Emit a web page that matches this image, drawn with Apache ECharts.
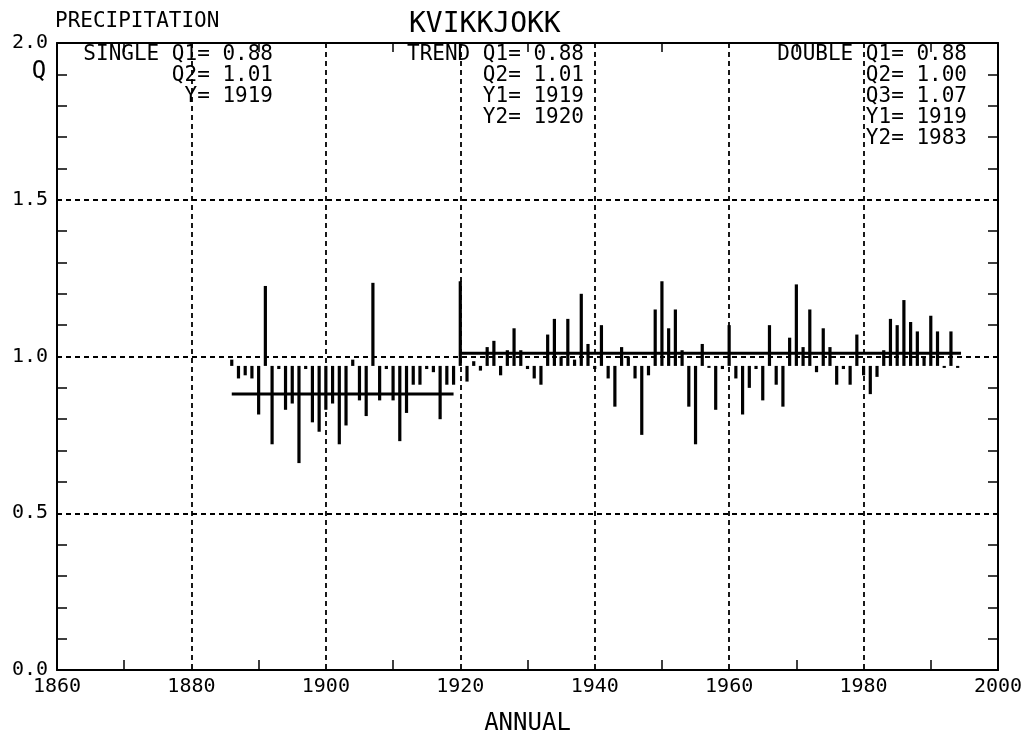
<!DOCTYPE html>
<html>
<head>
<meta charset="utf-8">
<title>KVIKKJOKK</title>
<script src="https://cdn.jsdelivr.net/npm/echarts/dist/echarts.min.js"></script>
<style>
  html, body { margin: 0; padding: 0; background: #fff; }
  #chart { width: 1030px; height: 741px; }
</style>
</head>
<body>
<div id="chart"></div>
<script>
// 数据
var firstYear = 1886;
var qValues = [
  0.99, 0.93, 0.94, 0.93, 0.815, 1.225, 0.72, 0.96, 0.83, 0.85,   // 1886-1895
  0.66, 0.96, 0.79, 0.76, 0.83, 0.85, 0.72, 0.78, 0.99, 0.86,     // 1896-1905
  0.81, 1.235, 0.86, 0.96, 0.86, 0.73, 0.82, 0.91, 0.91, 0.96,    // 1906-1915
  0.95, 0.80, 0.91, 0.91,                                         // 1916-1919
  1.24, 0.92, 0.985, 0.955, 1.03, 1.05, 0.94, 1.02, 1.09, 1.02,   // 1920-1929
  0.96, 0.93, 0.91, 1.07, 1.12, 1.00, 1.12, 0.99, 1.20, 1.04,     // 1930-1939
  0.96, 1.10, 0.93, 0.84, 1.03, 1.00, 0.93, 0.75, 0.94, 1.15,     // 1940-1949
  1.24, 1.09, 1.15, 1.02, 0.84, 0.72, 1.04, 0.965, 0.83, 0.96,    // 1950-1959
  1.10, 0.93, 0.815, 0.90, 0.96, 0.86, 1.10, 0.91, 0.84, 1.06,    // 1960-1969
  1.23, 1.03, 1.15, 0.95, 1.09, 1.03, 0.91, 0.96, 0.91, 1.07,     // 1970-1979
  0.94, 0.88, 0.935, 1.02, 1.12, 1.10, 1.18, 1.11, 1.08, 1.00,    // 1980-1989
  1.13, 1.08, 0.965, 1.08, 0.965                                  // 1990-1994
];
var barBase = 0.97;

// 均值线段
var segStart = [1886, 1920];
var segEnd = [1919, 1994.5];
var segQ = [0.88, 1.01];

// 文字
var xTicks = [1860, 1880, 1900, 1920, 1940, 1960, 1980, 2000];
var yTicks = ['0.0', '0.5', '1.0', '1.5', '2.0'];
var singleLines = ['SINGLE Q1= 0.88', 'Q2= 1.01', 'Y= 1919'];
var trendLines = ['TREND Q1= 0.88', 'Q2= 1.01', 'Y1= 1919', 'Y2= 1920'];
var doubleLines = ['DOUBLE Q1= 0.88', 'Q2= 1.00', 'Q3= 1.07', 'Y1= 1919', 'Y2= 1983'];

var FONT = '"DejaVu Sans Mono", "Liberation Mono", monospace';

var barData = qValues.map(function (v, i) { return [firstYear + i, v]; });

var lineSeries = segQ.map(function (q, i) {
  return {
    type: 'line',
    data: [[segStart[i], q], [segEnd[i], q]],
    symbol: 'none',
    silent: true,
    z: 5,
    lineStyle: { color: '#000', width: 3 }
  };
});

function textBlock(lines, right) {
  return lines.map(function (t, i) {
    return {
      type: 'text',
      x: right,
      y: 55 + i * 21,
      style: {
        text: t,
        fill: '#000',
        font: '21px ' + FONT,
        align: 'right',
        textAlign: 'right',
        verticalAlign: 'middle',
        textVerticalAlign: 'middle'
      },
      z: 10
    };
  });
}

var myChart = echarts.init(document.getElementById('chart'));

var frameLine = { show: true, onZero: false, lineStyle: { color: '#000', width: 2 } };
var dashed = { show: true, lineStyle: { color: '#000', width: 1.8, type: [5, 4] } };

var option = {
  backgroundColor: '#fff',
  animation: false,
  title: {
    text: 'KVIKKJOKK',
    left: 404,
    top: 6,
    textStyle: { fontFamily: FONT, fontSize: 28, fontWeight: 'normal', color: '#000' }
  },
  grid: { left: 57, right: 32, top: 43, bottom: 63, containLabel: false },
  xAxis: [
    {
      type: 'value',
      min: xTicks[0],
      max: xTicks[xTicks.length - 1],
      interval: 20,
      position: 'bottom',
      axisLine: frameLine,
      axisTick: { show: false, inside: true },
      minorTick: { show: true, splitNumber: 2, length: 10, lineStyle: { color: '#000', width: 1.5 } },
      axisLabel: {
        color: '#000', fontFamily: FONT, fontSize: 20, margin: 7,
        formatter: function (v) { return String(v); }
      },
      splitLine: dashed,
      name: 'ANNUAL',
      nameLocation: 'middle',
      nameGap: 42,
      nameTextStyle: { color: '#000', fontFamily: FONT, fontSize: 24 }
    },
    {
      type: 'value',
      min: xTicks[0],
      max: xTicks[xTicks.length - 1],
      interval: 20,
      position: 'top',
      axisLine: frameLine,
      axisTick: { show: false, inside: true },
      minorTick: { show: true, splitNumber: 2, length: 9, lineStyle: { color: '#000', width: 1.5 } },
      axisLabel: { show: false },
      splitLine: { show: false }
    }
  ],
  yAxis: [
    {
      type: 'value',
      min: 0,
      max: 2,
      interval: 0.5,
      position: 'left',
      axisLine: frameLine,
      axisTick: { show: false, inside: true },
      minorTick: { show: true, splitNumber: 5, length: 10, lineStyle: { color: '#000', width: 1.5 } },
      axisLabel: {
        color: '#000', fontFamily: FONT, fontSize: 20, margin: 9,
        formatter: function (v) { return yTicks[Math.round(v * 2)]; }
      },
      splitLine: dashed
    },
    {
      type: 'value',
      min: 0,
      max: 2,
      interval: 0.5,
      position: 'right',
      axisLine: frameLine,
      axisTick: { show: false, inside: true },
      minorTick: { show: true, splitNumber: 5, length: 10, lineStyle: { color: '#000', width: 1.5 } },
      axisLabel: { show: false },
      splitLine: { show: false }
    }
  ],
  graphic: [
    {
      type: 'text', x: 55, y: 22,
      style: { text: 'PRECIPITATION', fill: '#000', font: '21px ' + FONT, align: 'left', textAlign: 'left', verticalAlign: 'middle', textVerticalAlign: 'middle' }
    },
    {
      type: 'text', x: 39, y: 72,
      style: { text: 'Q', fill: '#000', font: '24px ' + FONT, align: 'center', textAlign: 'center', verticalAlign: 'middle', textVerticalAlign: 'middle' }
    }
  ].concat(textBlock(singleLines, 273), textBlock(trendLines, 584), textBlock(doubleLines, 967)),
  series: [
    {
      type: 'custom',
      data: barData,
      silent: true,
      z: 4,
      renderItem: function (params, api) {
        var p0 = api.coord([api.value(0), barBase]);
        var p1 = api.coord([api.value(0), api.value(1)]);
        var h = Math.max(Math.abs(p1[1] - p0[1]), 2);
        var top = p1[1] < p0[1] ? p1[1] : p0[1];
        return {
          type: 'rect',
          shape: { x: p0[0] - 1.6, y: top, width: 3.2, height: h },
          style: { fill: '#000' }
        };
      }
    }
  ].concat(lineSeries)
};

myChart.setOption(option);
</script>
</body>
</html>
